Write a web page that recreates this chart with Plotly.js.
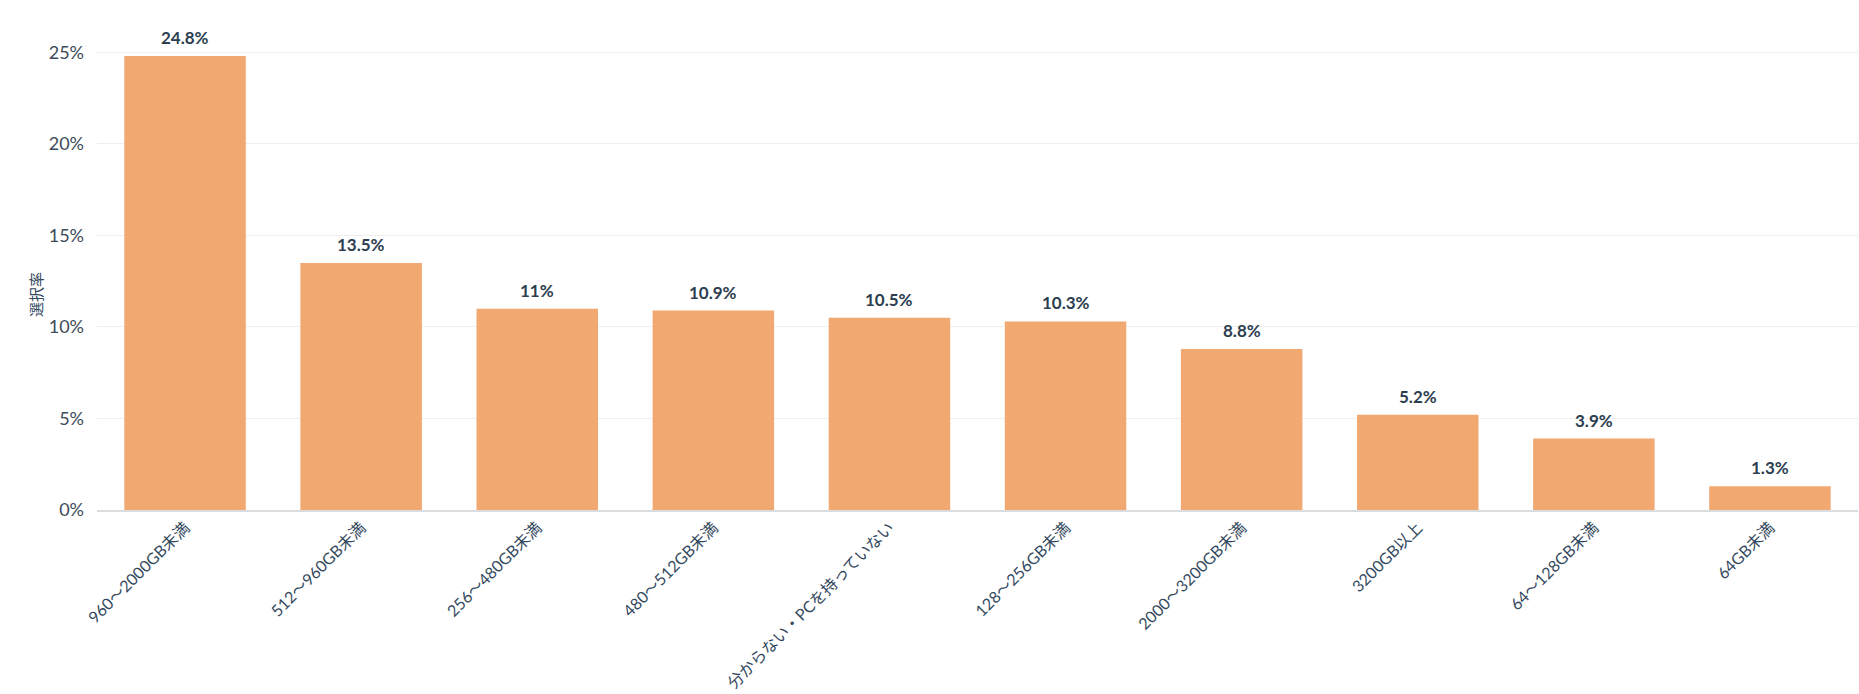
<!DOCTYPE html>
<html>
<head>
<meta charset="utf-8">
<script src="https://cdn.plot.ly/plotly-3.0.1.min.js"></script>
<style>
  html, body { margin: 0; padding: 0; background: #ffffff; }
  #chart { width: 1859px; height: 694px; }
</style>
</head>
<body>
<div id="chart"></div>
<script>
var categories = [
  '960〜2000GB未満',
  '512〜960GB未満',
  '256〜480GB未満',
  '480〜512GB未満',
  '分からない・PCを持っていない',
  '128〜256GB未満',
  '2000〜3200GB未満',
  '3200GB以上',
  '64〜128GB未満',
  '64GB未満'
];
var rates = [24.8, 13.5, 11.0, 10.9, 10.5, 10.3, 8.8, 5.2, 3.9, 1.3];
var rateLabels = ['24.8%', '13.5%', '11%', '10.9%', '10.5%', '10.3%', '8.8%', '5.2%', '3.9%', '1.3%'];
var yTicks = [0, 5, 10, 15, 20, 25];
var yTickLabels = ['0%', '5%', '10%', '15%', '20%', '25%'];
var yTitle = '選択率';

var fontFamily = 'Lato, "Noto Sans CJK JP", sans-serif';

var trace = {
  type: 'bar',
  x: categories,
  y: rates,
  marker: {
    color: '#f2a871'
  },
  hoverinfo: 'x+y'
};

// value labels sit a bit higher above the bars than plotly's own outside text
var labels = categories.map(function (cat, i) {
  return {
    x: cat,
    y: rates[i],
    xref: 'x',
    yref: 'y',
    text: rateLabels[i],
    showarrow: false,
    yanchor: 'bottom',
    yshift: 6,
    font: {
      family: fontFamily,
      size: 17,
      color: '#2c3e50',
      weight: 'bold'
    }
  };
});

// y title placed by hand, it sits below the middle of the plot in the original
labels.push({
  xref: 'paper',
  yref: 'paper',
  x: -0.041,
  y: 0.445,
  text: yTitle,
  textangle: -90,
  showarrow: false,
  font: { family: fontFamily, size: 15, color: '#34495e' }
});

var layout = {
  width: 1859,
  height: 694,
  margin: { l: 97, r: 1, t: 25, b: 184, pad: 0 },
  bargap: 0.31,
  showlegend: false,
  plot_bgcolor: '#ffffff',
  paper_bgcolor: '#ffffff',
  font: { family: fontFamily, color: '#34495e' },
  annotations: labels,
  xaxis: {
    type: 'category',
    tickangle: -45,
    tickfont: { family: fontFamily, size: 16, color: '#34495e' },
    showline: true,
    linecolor: '#dadde0',
    linewidth: 2,
    ticks: '',
    showgrid: false
  },
  yaxis: {
    range: [0, 26.5],
    tickvals: yTicks,
    ticktext: yTickLabels,
    tickfont: { family: fontFamily, size: 18, color: '#3d4b5a' },
    ticklabelstandoff: 12,
    showgrid: true,
    gridcolor: '#eeeeee',
    gridwidth: 1,
    zeroline: false,
    showline: false,
    ticks: ''
  }
};

var config = { displayModeBar: false, responsive: false };

Plotly.newPlot('chart', [trace], layout, config);
</script>
</body>
</html>
